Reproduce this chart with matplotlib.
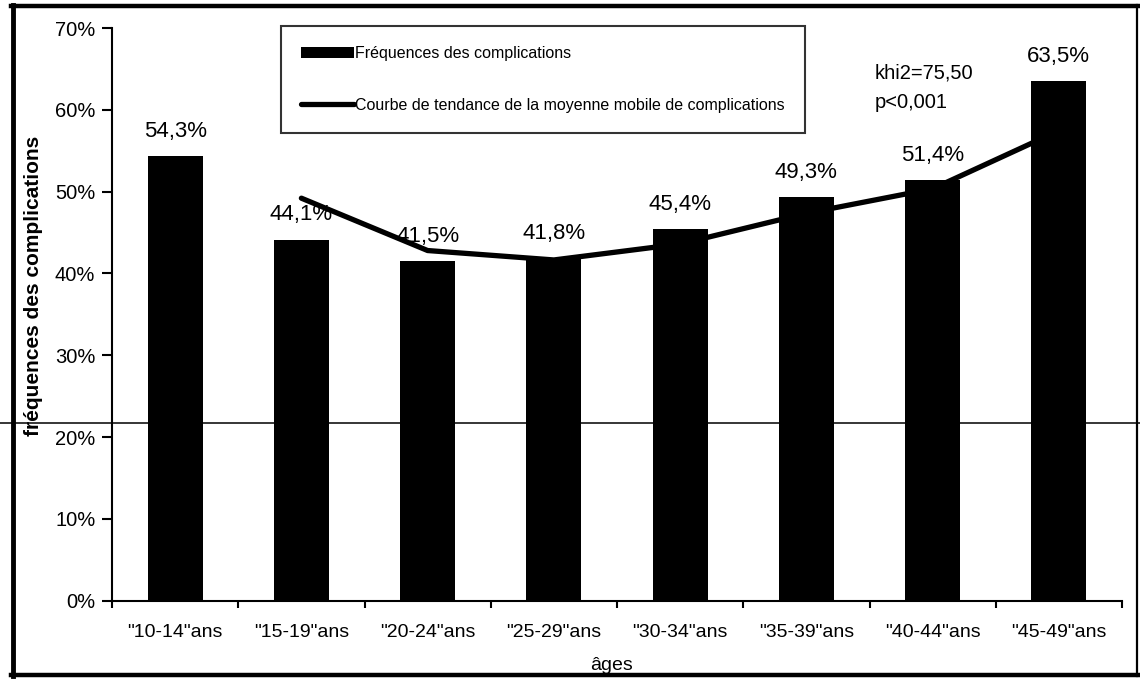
import matplotlib
matplotlib.use("Agg")
import matplotlib.pyplot as plt
import numpy as np
from matplotlib.lines import Line2D

plt.rcParams["font.family"] = ["Liberation Sans", "DejaVu Sans"]

# age groups and complication frequencies (%)
ages = ['"10-14"ans', '"15-19"ans', '"20-24"ans', '"25-29"ans',
        '"30-34"ans', '"35-39"ans', '"40-44"ans', '"45-49"ans']
freq = [54.3, 44.1, 41.5, 41.8, 45.4, 49.3, 51.4, 63.5]
yticks = [0, 10, 20, 30, 40, 50, 60, 70]

W, H = 1140, 682
fig = plt.figure(figsize=(W / 100, H / 100), dpi=100)
ax = fig.add_axes([112 / W, 1 - 600.7 / H, 1010 / W, 572.7 / H])

x = np.arange(len(ages))
bars = ax.bar(x, freq, width=0.436, color="black",
              label="Fréquences des complications")

# 2-period moving average trend line
mov = np.convolve(freq, [0.5, 0.5], mode="valid")
trend, = ax.plot(x[1:], mov, color="black", lw=3.8, solid_capstyle="round",
                 label="Courbe de tendance de la moyenne mobile de complications")

for xi, v in zip(x, freq):
    ax.annotate(f"{v:.1f}%".replace(".", ","), (xi, v), xytext=(0, 14),
                textcoords="offset points", ha="center", va="baseline", fontsize=16)

ax.set_xlim(-0.5, len(ages) - 0.5)
ax.set_ylim(0, 70)
ax.set_yticks(yticks)
ax.set_yticklabels([f"{t}%" for t in yticks], fontsize=14.5)
ax.set_xticks(x)
ax.set_xticklabels(ages, fontsize=14)
ax.set_xticks(np.arange(len(ages) + 1) - 0.5, minor=True)
ax.tick_params(axis="x", which="major", length=0, pad=17)
ax.tick_params(axis="x", which="minor", length=5, width=1.5, direction="out")
ax.tick_params(axis="y", length=7, width=1.5, pad=5)

for s in ("top", "right"):
    ax.spines[s].set_visible(False)
for s in ("left", "bottom"):
    ax.spines[s].set_linewidth(1.5)

ax.set_ylabel("fréquences des complications", fontsize=15, fontweight="bold")
ax.yaxis.set_label_coords(-0.068, 0.55)
ax.set_xlabel("âges", fontsize=14)
ax.xaxis.set_label_coords(0.495, -0.098)

leg = ax.legend(handles=[bars, trend], loc="upper left",
                bbox_to_anchor=(281 / W, 1 - 26 / H), bbox_transform=fig.transFigure,
                fontsize=11.5, frameon=True, fancybox=False, edgecolor="black",
                borderpad=1.25, borderaxespad=0, labelspacing=2.3,
                handlelength=3.3, handletextpad=0.1, handleheight=0.75)
leg.get_frame().set_linewidth(1.5)

ax.text(875 / W, 1 - 73 / H, "khi2=75,50", transform=fig.transFigure,
        fontsize=14.5, va="center", ha="left")
ax.text(875 / W, 1 - 103 / H, "p<0,001", transform=fig.transFigure,
        fontsize=14.5, va="center", ha="left")

# outer frame and the horizontal rule across the page
def fline(xs, ys, lw):
    fig.add_artist(Line2D([v / W for v in xs], [1 - v / H for v in ys],
                          transform=fig.transFigure, color="black", lw=lw))

fline([13, 13], [5, 676], 3.5)
fline([11, 1138], [6, 6], 3.2)
fline([11, 1138], [675, 675], 3.2)
fline([1137, 1137], [5, 676], 1.6)
fline([0, 1140], [423, 423], 1.1)

fig.savefig("out.png", dpi=100)
